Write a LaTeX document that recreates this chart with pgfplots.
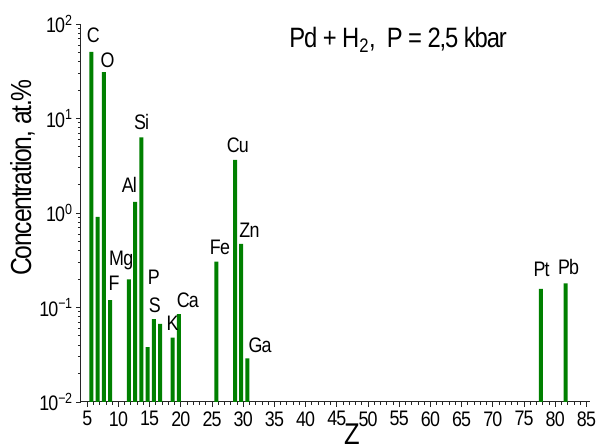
\documentclass[border=0pt]{standalone}
\usepackage{pgfplots}
\pgfplotsset{compat=1.18}
\usepackage{fontspec}
\setmainfont{Liberation Sans}[FakeStretch=0.85, LetterSpace=-4]
\definecolor{bargreen}{RGB}{0,128,0}

% concentration of impurities (at.%) versus atomic number Z
\pgfplotstableread{
Z   conc
6   50.6
7   0.91
8   31
9   0.12
12  0.198
13  1.31
14  6.3
15  0.038
16  0.0755
17  0.067
19  0.048
20  0.085
26  0.305
29  3.64
30  0.47
31  0.029
78  0.157
82  0.18
}\impurities

\newcommand{\fs}[1]{\fontsize{#1}{#1}\selectfont}

\begin{document}
\begin{tikzpicture}
\begin{axis}[
  scale only axis, width=509bp, height=378bp,
  ymode=log, log origin=infty,
  xmin=4, xmax=85.57, ymin=0.01, ymax=100,
  enlargelimits=false,
  axis lines*=left,
  axis line style={line width=1bp, black!85},
  xtick={5,10,...,85}, minor x tick num=4,
  ytick={0.01,0.1,1,10,100},
  yticklabels={10\textsuperscript{−2},10\textsuperscript{−1},10\textsuperscript{0},10\textsuperscript{1},10\textsuperscript{2}},
  minor ytick={0.02,0.03,0.04,0.05,0.06,0.07,0.08,0.09,
               0.2,0.3,0.4,0.5,0.6,0.7,0.8,0.9,
               2,3,4,5,6,7,8,9,20,30,40,50,60,70,80,90},
  tick align=outside,
  major tick length=5bp, minor tick length=3bp,
  every tick/.style={black!85, line width=0.9bp},
  /pgf/number format/assume math mode=true,
  ticklabel style={font=\fs{21bp}},
  xticklabel style={yshift=-1bp},
  xlabel={Z},
  xlabel style={font=\fs{30bp}, at={(axis description cs:0.532,-0.1125)}, anchor=base},
  ylabel={Concentration, at.\%},
  ylabel style={font=\fs{29bp}, at={(axis description cs:-0.115,0.594)}, anchor=center},
  ybar, bar width=4bp, bar shift=-2bp,
  clip=false,
]
\addplot[fill=bargreen, draw=none] table[x=Z, y=conc] {\impurities};

\node[anchor=base, font=\fs{28bp}] at (rel axis cs:0.623,0.939)
  {Pd + H\textsubscript{2},\ \ P = 2,5 kbar};

\begin{scope}[every node/.style={anchor=base, font=\fs{21bp}, inner sep=0pt}]
\node at (rel axis cs:0.024,0.950) {C};
\node at (rel axis cs:0.052,0.886) {O};
\node at (rel axis cs:0.065,0.294) {F};
\node at (rel axis cs:0.079,0.362) {Mg};
\node at (rel axis cs:0.095,0.553) {Al};
\node at (rel axis cs:0.119,0.722) {Si};
\node at (rel axis cs:0.143,0.310) {P};
\node at (rel axis cs:0.145,0.238) {S};
\node at (rel axis cs:0.180,0.190) {K};
\node at (rel axis cs:0.210,0.249) {Ca};
\node at (rel axis cs:0.273,0.389) {Fe};
\node at (rel axis cs:0.308,0.659) {Cu};
\node at (rel axis cs:0.331,0.434) {Zn};
\node at (rel axis cs:0.352,0.130) {Ga};
\node at (rel axis cs:0.905,0.331) {Pt};
\node at (rel axis cs:0.958,0.336) {Pb};
\end{scope}
\end{axis}
\pgfresetboundingbox
\path[use as bounding box] ([shift={(-81bp,-42bp)}]current axis.south west)
  rectangle ([shift={(8bp,24bp)}]current axis.north east);
\end{tikzpicture}
\end{document}
